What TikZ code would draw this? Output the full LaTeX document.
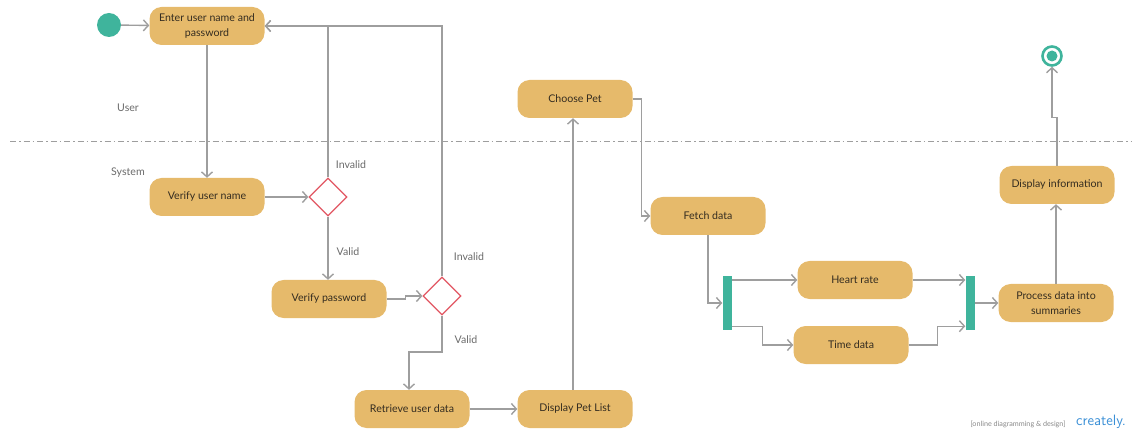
\documentclass[tikz,border=0pt]{standalone}
\usepackage{fontspec}
\setmainfont{Lato}
\usepackage{xcolor}
\usetikzlibrary{arrows.meta,shapes.geometric,calc}

\definecolor{actfill}{HTML}{E6BA6B}
\definecolor{acttext}{HTML}{342C20}
\definecolor{barteal}{HTML}{3FB49C}
\definecolor{decred}{HTML}{E25763}
\definecolor{flowgray}{HTML}{9E9E9E}
\definecolor{lblgray}{HTML}{6A6A6A}
\definecolor{brandblue}{HTML}{3A8FD6}

\begin{document}
\begin{tikzpicture}[x=1pt, y=-1pt, >={Straight Barb[length=5pt,width=11pt]},
    act/.style={rectangle, rounded corners=12pt, fill=actfill, text=acttext,
      minimum width=115pt, minimum height=38pt, inner sep=2pt, align=center,
      font=\fontsize{10.6}{14.5}\selectfont},
    decision/.style={diamond, draw=decred, line width=1.2pt, fill=white,
      minimum width=38pt, minimum height=38pt, inner sep=0pt},
    bar/.style={rectangle, fill=barteal, minimum width=9pt, minimum height=54pt, inner sep=0pt},
    flow/.style={draw=flowgray, line width=1.4pt, ->},
    lbl/.style={text=lblgray, font=\fontsize{10.6}{12}\selectfont}]

  \useasboundingbox (0,0) rectangle (1132,430);

  % swimlane split
  \draw[flowgray, line width=1pt, dash pattern=on 6pt off 3pt on 1.5pt off 3pt] (10,142) -- (1132,142);
  \node[lbl] (user) at (128,108) {User};
  \node[lbl] (system) at (128,173) {System};

  % start / end
  \node[circle, fill=barteal, minimum size=24pt, inner sep=0pt] (start) at (109,25) {};
  \node[circle, draw=barteal, line width=2.6pt, fill=white, minimum size=19pt, inner sep=0pt] (stop) at (1052,56) {};
  \fill[barteal] (stop.center) circle (5.5pt);

  % activities
  \node[act] (enter) at (207,26) {Enter user name and\\password};
  \node[act] (vname) at (207,197) {Verify user name};
  \node[act] (vpass) at (329,299) {Verify password};
  \node[act] (retrieve) at (412,409) {Retrieve user data};
  \node[act] (petlist) at (575,409) {Display Pet List};
  \node[act] (choose) at (575,99) {Choose Pet};
  \node[act] (fetch) at (708,216) {Fetch data};
  \node[act] (heart) at (855,280) {Heart rate};
  \node[act] (time) at (851,345) {Time data};
  \node[act] (proc) at (1056,303) {Process data into\\summaries};
  \node[act] (info) at (1057,185) {Display information};

  % decisions and bars
  \node[decision] (d1) at (328,197) {};
  \node[decision] (d2) at (442,296) {};
  \node[bar] (fork) at (727,303) {};
  \node[bar] (join) at (970,303) {};

  % login
  \draw[flow] (start) -- (enter);
  \draw[flow] (enter.south) -- (vname.north);
  \draw[flow] (vname.east) -- (d1.west);
  \draw[flow] (d1.north) |- (enter.east);
  \draw[flow] (d2.north) |- (enter.east);
  \draw[flow] (d1.south) -- (d1.south |- vpass.north);
  \draw[flow] (vpass.east) -- ++(19,0) |- (d2.west);
  \draw[flow] (d2.south) -- (d2.south |- 0,352) -| ($(retrieve.north)+(-3,0)$);
  \node[lbl] (inv1) at (351,165) {Invalid};
  \node[lbl] (val1) at (348,252) {Valid};
  \node[lbl] (inv2) at (469,257) {Invalid};
  \node[lbl] (val2) at (466,340) {Valid};

  % pets
  \draw[flow] (retrieve.east) -- (petlist.west);
  \draw[flow] ($(petlist.north)+(-2,0)$) -- ($(choose.south)+(-2,0)$);
  \draw[flow] (choose.east) -- ++(9,0) |- (fetch.west);
  \draw[flow] (fetch.south) |- (fork.west);

  % data split and join
  \draw[flow] (fork.east |- heart.west) -- (heart.west);
  \draw[flow] ($(fork.south east)+(0,-4)$) -- ++(31,0) |- (time.west);
  \draw[flow] (heart.east) -- (join.west |- heart.east);
  \draw[flow] (time.east) -- ++(29,0) |- ($(join.south west)+(0,-4)$);
  \draw[flow] (join.east) -- (proc.west);
  \draw[flow] (proc.north) -- (proc.north |- info.south);
  \draw[flow] (info.north) -- ++(0,-48) -| (stop.south);

  % brand mark
  \node[text=lblgray!80, font=\fontsize{7.2}{8}\selectfont] (tag) at (1018,424) {[online diagramming \& design]};
  \node[text=brandblue, font=\sffamily\fontsize{15}{15}\selectfont, inner sep=0pt] (brand) at (1101,422) {creately.};
\end{tikzpicture}
\end{document}
